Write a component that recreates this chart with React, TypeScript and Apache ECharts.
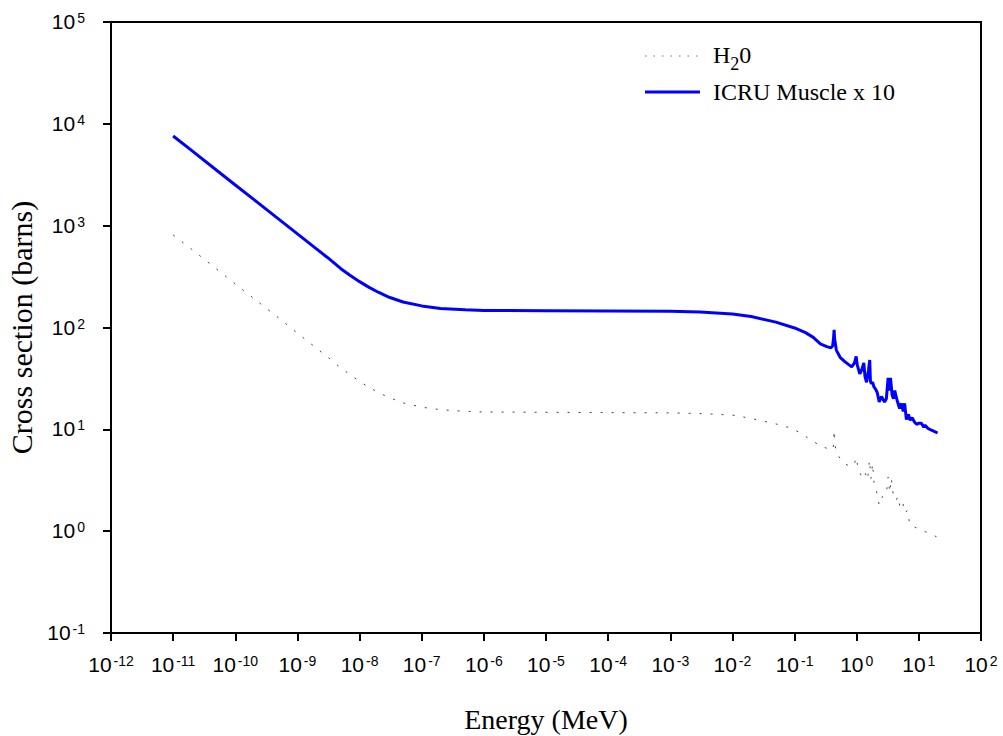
import React, { useEffect, useRef } from "react";
import * as echarts from "echarts";

const muscleEnergy = [1e-11, 2e-11, 5e-11, 1e-10, 2e-10, 5e-10, 1e-9, 2e-9, 3e-9, 5e-9, 7e-9, 1e-8, 1.4e-8, 2e-8, 3e-8, 5e-8, 1e-7, 2e-7, 5e-7, 1e-6, 1e-5, 1e-4, 1e-3, 3e-3, 1e-2, 2e-2, 5e-2, 0.1, 0.15, 0.2, 0.26, 0.33, 0.386, 0.41, 0.425, 0.433, 0.44, 0.47, 0.54, 0.65, 0.83, 0.92, 0.98, 1.02, 1.12, 1.2, 1.3, 1.36, 1.44, 1.55, 1.62, 1.66, 1.72, 1.8, 1.9, 2.0, 2.14, 2.3, 2.5, 2.8, 3.0, 3.2, 3.35, 3.5, 3.7, 3.9, 4.1, 4.3, 4.5, 4.9, 5.2, 5.6, 5.9, 6.3, 6.8, 7.2, 7.8, 8.5, 9.2, 10, 11, 12, 12.6, 14, 16, 18, 20];
const muscleX10 = [7600, 5450, 3500, 2510, 1800, 1160, 830, 595, 490, 378, 326, 282, 249, 222, 198, 178, 163, 154, 149, 147, 146, 145, 144, 142, 136, 128, 113, 99, 89, 80, 69, 65, 63, 66, 80, 95, 78, 60, 51, 46, 41, 45, 52, 43, 35, 38, 45, 33, 29, 38, 48, 30, 28, 29, 26, 25, 23, 18.6, 21, 18.6, 20, 32, 24, 32, 22, 20, 24, 21, 19, 16, 18, 15, 18, 12.5, 14, 12.3, 13, 11.8, 11.2, 11.5, 11.5, 10.5, 11, 10.2, 9.8, 9.5, 9.2];

const waterEnergy = [1e-11, 2e-11, 5e-11, 1e-10, 2e-10, 5e-10, 1e-9, 2e-9, 3e-9, 5e-9, 7e-9, 1e-8, 1.4e-8, 2e-8, 3e-8, 5e-8, 1e-7, 2e-7, 5e-7, 1e-6, 1e-5, 1e-4, 1e-3, 3e-3, 1e-2, 2e-2, 5e-2, 0.078, 0.122, 0.17, 0.27, 0.36, 0.41, 0.425, 0.433, 0.44, 0.47, 0.6, 0.8, 0.92, 0.98, 1.05, 1.2, 1.35, 1.5, 1.6, 1.7, 1.8, 1.9, 2.0, 2.3, 2.6, 3.0, 3.2, 3.4, 3.6, 3.9, 4.3, 4.6, 5.0, 5.5, 6.0, 6.5, 7.2, 8.5, 10, 12, 15, 20];
const water = [810, 585, 375, 268, 192, 124, 88, 63, 52, 40, 34.5, 29.5, 26, 23, 20.5, 18.2, 16.5, 15.6, 15.0, 14.8, 14.7, 14.6, 14.5, 14.3, 13.8, 12.8, 11.3, 10.5, 9.3, 8.1, 6.8, 6.4, 6.3, 7.0, 9.8, 7.5, 5.9, 4.7, 4.3, 4.6, 5.3, 4.2, 3.4, 3.8, 3.2, 5.0, 3.3, 4.6, 3.0, 2.8, 1.8, 2.2, 2.3, 3.4, 2.4, 3.3, 2.2, 2.0, 2.2, 1.7, 1.9, 1.5, 1.6, 1.15, 1.1, 1.05, 1.0, 0.95, 0.87];

const seriesNames = ["H\u20820", "ICRU Muscle x 10"];
const xAxisTitle = "Energy (MeV)";
const yAxisTitle = "Cross section (barns)";

const powLabel = (v: number) => {
  const e = Math.round(Math.log10(v));
  return "{base|10}{sup|" + e + "}";
};

const labelRich = {
  base: { fontSize: 21, lineHeight: 22, fontFamily: "Liberation Sans", color: "#000", verticalAlign: "top" },
  sup: { fontSize: 14, lineHeight: 15, fontFamily: "Liberation Sans", color: "#000", verticalAlign: "top", padding: [0, 0, 0, 2] },
};

export default function App() {
  const ref = useRef<HTMLDivElement>(null);
  useEffect(() => {
    if (!ref.current) return;
    const chart = echarts.init(ref.current, undefined, { renderer: "svg" });
    const axisCommon = {
      type: "log",
      logBase: 10,
      nameLocation: "middle",
      axisLine: { lineStyle: { color: "#000", width: 2 } },
      axisTick: { inside: false, length: 8, interval: 0, lineStyle: { color: "#000", width: 2 } },
      minorTick: { show: false },
      splitLine: { show: false },
    };
    chart.setOption({
      animation: false,
      backgroundColor: "#fff",
      grid: { left: 111, right: 22, top: 22, bottom: 103, show: true, borderColor: "#000", borderWidth: 2, outerBoundsMode: "none", containLabel: false },
      xAxis: {
        ...axisCommon,
        min: 1e-12,
        max: 100,
        interval: 1,
        splitNumber: 14,
        name: xAxisTitle,
        nameGap: 72,
        nameTextStyle: { fontFamily: "Liberation Serif", fontSize: 28, color: "#000" },
        axisLabel: { formatter: powLabel, rich: labelRich, margin: 21, fontSize: 21, fontFamily: "Liberation Sans", color: "#000", hideOverlap: false, interval: 0 },
      },
      yAxis: {
        ...axisCommon,
        min: 0.1,
        max: 1e5,
        interval: 1,
        splitNumber: 6,
        name: yAxisTitle,
        nameGap: 74,
        nameTextStyle: { fontFamily: "Liberation Serif", fontSize: 30, color: "#000" },
        axisLabel: { formatter: powLabel, rich: labelRich, margin: 26, fontSize: 21, fontFamily: "Liberation Sans", color: "#000", hideOverlap: false },
      },
      series: [
        {
          name: seriesNames[0],
          type: "line",
          data: waterEnergy.map((e, i) => [e, water[i]]),
          symbol: "none",
          lineStyle: { color: "#444", width: 1, type: [2, 9] },
          z: 2,
        },
        {
          name: seriesNames[1],
          type: "line",
          data: muscleEnergy.map((e, i) => [e, muscleX10[i]]),
          symbol: "none",
          lineStyle: { color: "#0000ff", width: 3 },
          z: 3,
        },
      ],
      graphic: [
        { type: "line", shape: { x1: 645, y1: 56, x2: 700, y2: 56 }, style: { stroke: "#777", lineWidth: 1, lineDash: [1.5, 7] } },
        {
          type: "text",
          x: 713,
          y: 43,
          style: {
            text: "{n|H}{sub|2}{n|0}",
            rich: {
              n: { fontFamily: "Liberation Serif", fontSize: 24, lineHeight: 24, verticalAlign: "top", fill: "#000" },
              sub: { fontFamily: "Liberation Serif", fontSize: 18, lineHeight: 18, verticalAlign: "top", padding: [12, 0, 0, 0], fill: "#000" },
            },
          },
        },
        { type: "line", shape: { x1: 645, y1: 92, x2: 700, y2: 92 }, style: { stroke: "#0000ff", lineWidth: 3 } },
        {
          type: "text",
          x: 713,
          y: 92,
          style: { text: seriesNames[1], fontFamily: "Liberation Serif", fontSize: 24, fill: "#000", verticalAlign: "middle" },
        },
      ],
    });
    return () => chart.dispose();
  }, []);
  return <div ref={ref} style={{ position: "fixed", left: 0, top: 0, width: 1003, height: 736, background: "#fff" }} />;
}
